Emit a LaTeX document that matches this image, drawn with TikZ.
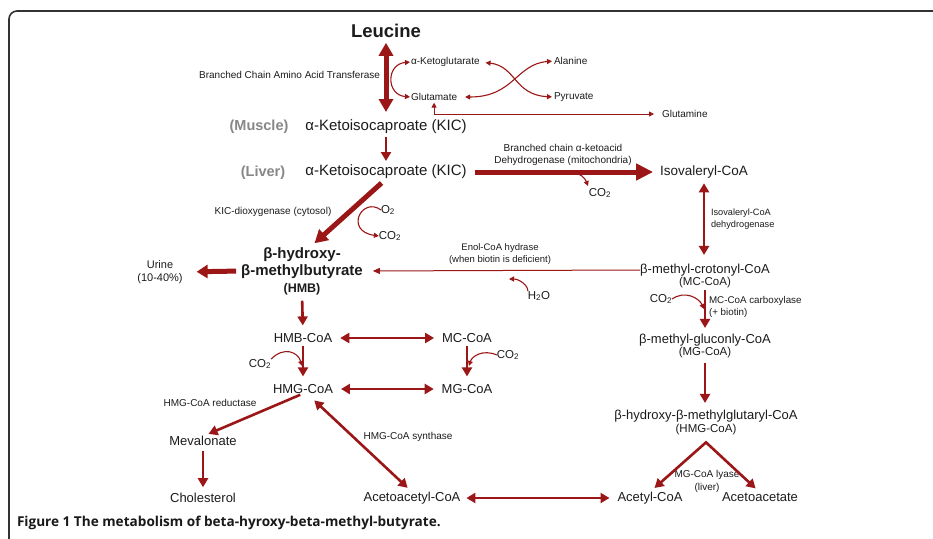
\documentclass[tikz,border=0pt]{standalone}
\usepackage{fontspec}
\setmainfont{Liberation Sans}
\newfontfamily\capfont{Open Sans}
\usetikzlibrary{arrows.meta,calc}
\definecolor{dr}{RGB}{155,22,22}
\definecolor{txt}{RGB}{28,28,28}
\definecolor{gr}{RGB}{135,135,135}
\tikzset{
  every node/.style={inner sep=0pt, outer sep=0pt, text=txt},
  big/.style={font=\fontsize{15}{17}\selectfont},
  mid/.style={font=\fontsize{13}{15}\selectfont, align=center},
  paren/.style={font=\fontsize{11.5}{13}\selectfont},
  sml/.style={font=\fontsize{10}{12.5}\selectfont, align=center},
  smlnine/.style={font=\fontsize{9.2}{12.5}\selectfont, align=left},
  cotwo/.style={font=\fontsize{11.5}{13}\selectfont},
  tiss/.style={font=\fontsize{14.5}{17}\selectfont\bfseries, text=gr},
  thk/.style={draw=dr, line width=5pt},
  med/.style={draw=dr, line width=2.6pt},
  thn/.style={draw=dr, line width=1pt},
  crv/.style={draw=dr, line width=1.1pt, -{Triangle[length=5pt,width=5pt]}},
  thead/.tip={Triangle[length=13pt,width=14pt]},
  bhead/.tip={Triangle[length=17pt,width=16pt]},
  mhead/.tip={Triangle[length=9pt,width=10pt]},
  shead/.tip={Triangle[length=7pt,width=6pt]}
}
\begin{document}
\begin{tikzpicture}[x=1pt,y=-1pt]
\useasboundingbox (0,0) rectangle (933,538);
\fill[white] (0,0) rectangle (933,538);
\draw[line width=1.6pt, draw=black!80, rounded corners=8pt] (934,11) -- (9,11) -- (9,540);

% nodes
\node[font=\bfseries\fontsize{18.5}{20}\selectfont] (leu) at (386,31) {Leucine};
\node[sml, anchor=east] (bcaat) at (380,75) {Branched Chain Amino Acid Transferase};
\node[sml, anchor=west] (akg) at (411,62) {α-Ketoglutarate};
\node[sml, anchor=west] (glu) at (411,97) {Glutamate};
\node[sml, anchor=west] (ala) at (554,61) {Alanine};
\node[sml, anchor=west] (pyr) at (554,97) {Pyruvate};
\node[sml, anchor=west] (gln) at (662,114) {Glutamine};
\node[tiss] (mus) at (259,127) {(Muscle)};
\node[big] (kicm) at (386,127) {α-Ketoisocaproate (KIC)};
\node[tiss] (liv) at (263,173) {(Liver)};
\node[big] (kicl) at (386,172) {α-Ketoisocaproate (KIC)};
\node[sml] (bcka) at (563,155) {Branched chain α-ketoacid\\Dehydrogenase (mitochondria)};
\node[mid, font=\fontsize{13.5}{15}\selectfont] (iso) at (704,172) {Isovaleryl-CoA};
\node[cotwo] (co2a) at (600,193) {CO\textsubscript{2}};
\node[sml] (kicdo) at (273,212) {KIC-dioxygenase (cytosol)};
\node[cotwo] (o2) at (388,210) {O\textsubscript{2}};
\node[cotwo] (co2b) at (390,236) {CO\textsubscript{2}};
\node[align=center, font=\bfseries\fontsize{15}{17}\selectfont] (hmb) at (302,271) {β-hydroxy-\\β-methylbutyrate\\{\fontsize{12.5}{17}\selectfont (HMB)}};
\node[align=center, font=\fontsize{11}{13}\selectfont] (uri) at (160,272) {Urine\\(10-40\%)};
\node[sml, font=\fontsize{9.5}{11.5}\selectfont] (enol) at (500,254) {Enol-CoA hydrase\\(when biotin is deficient)};
\node[cotwo] (h2o) at (539,296) {H\textsubscript{2}O};
\node[smlnine, anchor=west] (isod) at (711,219) {Isovaleryl-CoA\\dehydrogenase};
\node[mid] (mcc) at (705,270) {β-methyl-crotonyl-CoA};
\node[paren] (mcc2) at (705,283) {(MC-CoA)};
\node[cotwo] (co2c) at (661,299) {CO\textsubscript{2}};
\node[sml, align=left, anchor=west, font=\fontsize{9.8}{12}\selectfont] (mccarb) at (709,307) {MC-CoA carboxylase\\(+ biotin)};
\node[mid] (mgc) at (705,340) {β-methyl-gluconly-CoA};
\node[paren] (mgc2) at (705,353) {(MG-CoA)};
\node[mid] (hmgl) at (706,416) {β-hydroxy-β-methylglutaryl-CoA};
\node[paren] (hmgl2) at (706,430) {(HMG-CoA)};
\node[sml, font=\fontsize{10}{13}\selectfont] (lyase) at (707,481) {MG-CoA lyase\\(liver)};
\node[mid] (acet) at (650,498) {Acetyl-CoA};
\node[mid] (acac) at (760,497) {Acetoacetate};
\node[mid] (acacoa) at (412,498) {Acetoacetyl-CoA};
\node[mid] (hmbcoa) at (303,338) {HMB-CoA};
\node[mid] (mccoa) at (467,338) {MC-CoA};
\node[mid] (hmgcoa) at (303,389) {HMG-CoA};
\node[mid] (mgcoa) at (467,389) {MG-CoA};
\node[cotwo] (co2d) at (260,364) {CO\textsubscript{2}};
\node[cotwo] (co2e) at (508,355) {CO\textsubscript{2}};
\node[sml] (hmgred) at (210,403) {HMG-CoA reductase};
\node[sml] (hmgsyn) at (408,437) {HMG-CoA synthase};
\node[mid] (mev) at (203,441) {Mevalonate};
\node[mid] (chol) at (203,498) {Cholesterol};
\node[anchor=west, font=\capfont\bfseries\fontsize{13.6}{15}\selectfont, text=black!90] (cap) at (17,523) {Figure 1 The metabolism of beta-hyroxy-beta-methyl-butyrate.};

% coordinates for free ends
\coordinate (bckastart) at (572,172);
\coordinate (bckaend) at (588,186);
\coordinate (h2oend) at (509,279);
\coordinate (c2dend) at (302,366);
\coordinate (c2eend) at (469,366);
\coordinate (c2cend) at (704,309);
\coordinate (apex) at ($(hmgl2.south)+(0,7)$);

% main thick arrows
\draw[thk, {thead}-{thead}, shorten <=5pt, shorten >=8pt] (leu.south) -- (kicm.north);
\draw[med, -{mhead}, shorten <=3pt, shorten >=4pt] (kicm.south) -- (kicl.north);
\draw[thk, -{bhead}, shorten <=8pt, shorten >=7pt] (kicl.east) -- (iso.west);
\draw[thk, -{thead}, shorten <=6pt, shorten >=6pt] (kicl.south) -- ($(hmb.north)+(8,0)$);
\draw[thk, -{Triangle[length=11pt,width=13pt]}, shorten <=5pt, shorten >=14pt] (hmb.west) -- (uri.east);
\draw[thn, -{shead}, shorten >=10pt] (mcc.west) -- (hmb.east);
\draw[med, -{mhead}, shorten <=6pt, shorten >=8pt] (hmb.south) -- (hmbcoa.north);

% transamination
\draw[crv, {Triangle[length=5pt,width=5pt]}-{Triangle[length=5pt,width=5pt]}, shorten <=1pt, shorten >=1pt] (akg.west) .. controls (386,64) and (386,95) .. (glu.west);
\draw[crv, {Triangle[length=5pt,width=5pt]}-{Triangle[length=5pt,width=5pt]}, shorten <=6pt, shorten >=2pt] (akg.east) .. controls (516,66) and (514,95) .. (pyr.west);
\draw[crv, {Triangle[length=5pt,width=5pt]}-{Triangle[length=5pt,width=5pt]}, shorten <=8pt, shorten >=2pt] (glu.east) .. controls (514,97) and (516,64) .. (ala.west);
\draw[thn, line width=0.9pt, {Triangle[length=5pt,width=5pt]}-{Triangle[length=5pt,width=5pt]}, shorten <=2pt, shorten >=8pt] (glu.south) |- (gln.west);

% side curves
\draw[crv] (bckastart) .. controls (580,173) and (585,178) .. (bckaend);
\draw[crv] (o2.west) .. controls (362,196) and (344,231) .. (co2b.west);
\draw[crv] (h2o.north west) .. controls (528,285) and (519,279) .. (h2oend);
\draw[crv] (co2d.north east) .. controls (284,346) and (298,352) .. (c2dend);
\draw[crv] (co2e.west) .. controls (483,349) and (472,356) .. (c2eend);
\draw[crv] (co2c.east) .. controls (685,290) and (699,298) .. (c2cend);

% right column
\draw[med, {mhead}-{mhead}, shorten <=5pt, shorten >=9pt] (iso.south) -- (iso.south |- mcc.north);
\draw[med, -{mhead}, shorten <=2pt, shorten >=6pt] (mcc2.south) -- (mgc.north);
\draw[med, -{mhead}, shorten <=5pt, shorten >=7pt] (mgc2.south) -- (mgc2.south |- hmgl.north);
\draw[med, line join=miter, {mhead}-{mhead}, shorten <=6pt, shorten >=6pt] (acet.north) -- (apex) -- (acac.north);

% lower left block
\draw[med, {mhead}-{mhead}, shorten <=8pt, shorten >=8pt] (hmbcoa.east) -- (mccoa.west);
\draw[med, {mhead}-{mhead}, shorten <=8pt, shorten >=8pt] (hmgcoa.east) -- (mgcoa.west);
\draw[med, -{mhead}, shorten <=3pt, shorten >=8pt] (hmbcoa.south) -- (hmgcoa.north);
\draw[med, -{mhead}, shorten <=3pt, shorten >=8pt] (mccoa.south) -- (mgcoa.north);
\draw[med, -{mhead}, shorten <=3pt, shorten >=6pt] (hmgcoa.south) -- (mev.north);
\draw[med, {mhead}-{mhead}, shorten <=10pt, shorten >=6pt] ($(hmgcoa.south)+(4,0)$) -- (acacoa.north);
\draw[med, -{mhead}, shorten <=5pt, shorten >=6pt] (mev.south) -- (mev.south |- chol.north);
\draw[med, {mhead}-{mhead}, shorten <=6pt, shorten >=8pt] (acacoa.east) -- (acet.west);
\end{tikzpicture}
\end{document}
